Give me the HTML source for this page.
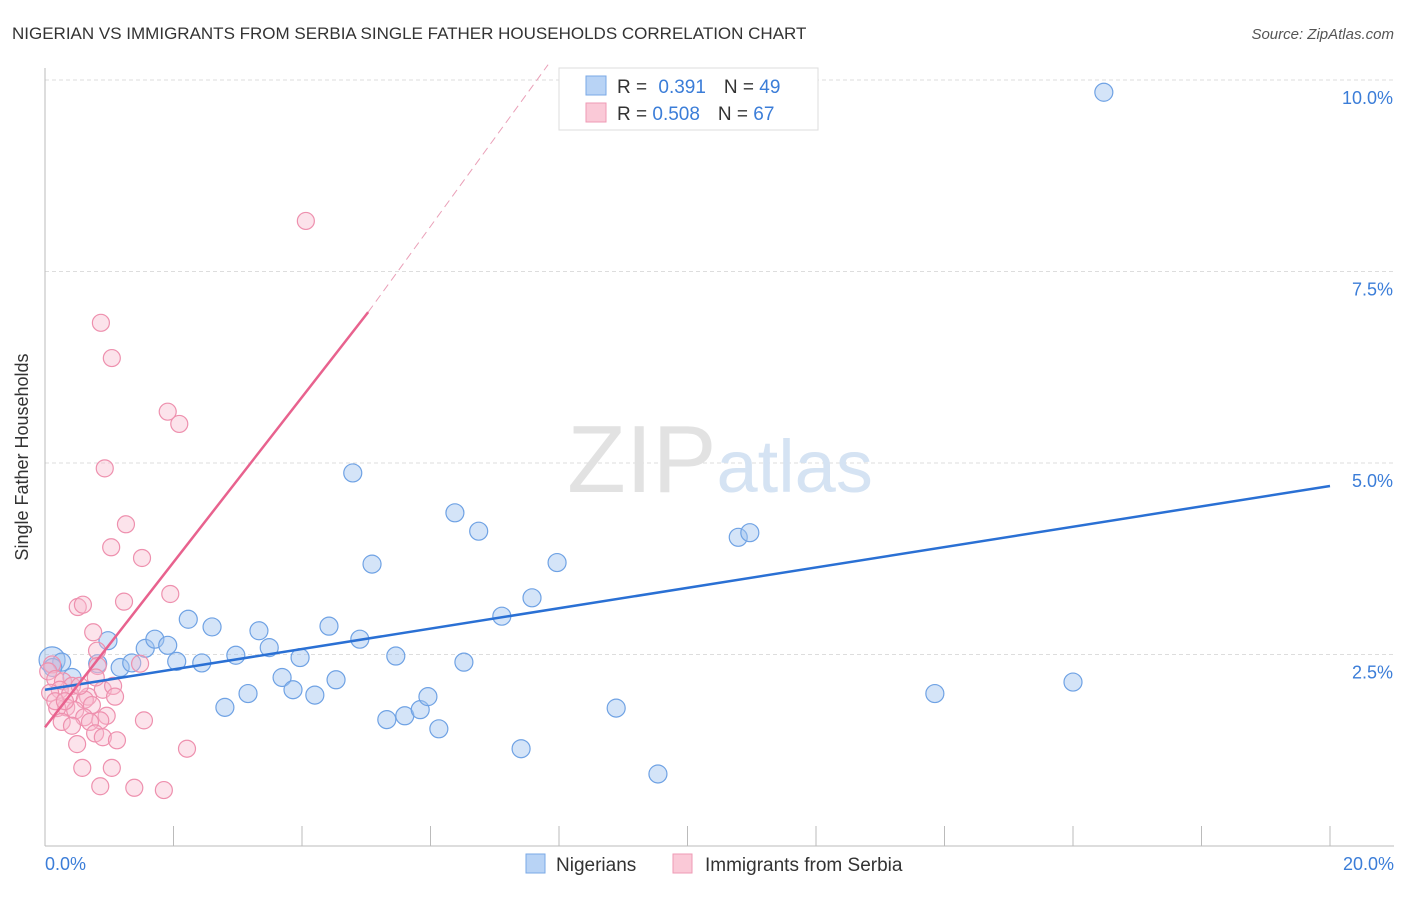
<!DOCTYPE html>
<html><head><meta charset="utf-8">
<style>
body{margin:0;background:#fff;font-family:"Liberation Sans",sans-serif;}
svg text{font-family:"Liberation Sans",sans-serif;}
</style></head>
<body>
<svg width="1406" height="892" viewBox="0 0 1406 892">
<text x="12" y="39" font-size="17" fill="#333">NIGERIAN VS IMMIGRANTS FROM SERBIA SINGLE FATHER HOUSEHOLDS CORRELATION CHART</text>
<text x="1394" y="39" font-size="15" fill="#555" font-style="italic" text-anchor="end">Source: ZipAtlas.com</text>
<g id="grid"></g>
<line x1="45" y1="68" x2="45" y2="846" stroke="#bbb"/>
<line x1="45" y1="846" x2="1394" y2="846" stroke="#bbb"/>
<g id="xticks"></g>
<text x="28" y="457" font-size="18" fill="#333" text-anchor="middle" transform="rotate(-90 28 457)">Single Father Households</text>
<text x="45" y="870" font-size="18" fill="#3b7dd8">0.0%</text>
<text x="1394" y="870" font-size="18" fill="#3b7dd8" text-anchor="end">20.0%</text>
<text x="720" y="492" font-size="96" fill="#ddd" text-anchor="middle" font-family="Liberation Serif"><tspan fill="#e2e2e2">ZIP</tspan><tspan fill="#d5e3f3" font-family="Liberation Sans" font-size="74">atlas</tspan></text>
<g id="pts"></g>
<g id="lines"></g>
<g>
<rect x="559" y="68" width="259" height="62" fill="#fff" stroke="#ddd"/>
<rect x="586" y="76" width="20" height="19" fill="#b8d3f5" stroke="#7aa8e6"/>
<rect x="586" y="103" width="20" height="19" fill="#fac9d7" stroke="#ef9ab4"/>
<text x="617" y="93" font-size="19" fill="#333">R = <tspan fill="#3b7dd8" dx="6">0.391</tspan><tspan dx="18" fill="#333">N = </tspan><tspan fill="#3b7dd8">49</tspan></text>
<text x="617" y="120" font-size="19" fill="#333">R = <tspan fill="#3b7dd8">0.508</tspan><tspan dx="18" fill="#333">N = </tspan><tspan fill="#3b7dd8">67</tspan></text>
</g>
<g>
<rect x="526" y="854" width="19" height="19" fill="#b8d3f5" stroke="#7aa8e6"/>
<text x="556" y="871" font-size="19" fill="#333">Nigerians</text>
<rect x="673" y="854" width="19" height="19" fill="#fac9d7" stroke="#ef9ab4"/>
<text x="705" y="871" font-size="19" fill="#333">Immigrants from Serbia</text>
</g>
</svg>
<script>
const yTicks=[2.5,5,7.5,10];
const yTickLabels=["2.5%","5.0%","7.5%","10.0%"];
const xTicks=[0,2,4,6,8,10,12,14,16,18,20];
const blueX=[0.11,0.26,0.98,0.82,1.17,1.35,1.56,1.71,1.91,2.05,2.23,2.44,2.6,2.8,2.97,3.16,3.33,3.49,3.69,3.86,3.97,4.2,4.42,4.53,4.79,4.9,5.09,5.32,5.46,5.6,5.84,5.96,6.13,6.38,6.52,6.75,7.11,7.41,7.58,7.97,8.89,9.54,10.79,10.97,13.85,16.0,16.48,0.42,0.12];
const blueY=[2.43,2.4,2.68,2.38,2.33,2.39,2.58,2.7,2.62,2.41,2.96,2.39,2.86,1.81,2.49,1.99,2.81,2.59,2.2,2.04,2.46,1.97,2.87,2.17,4.87,2.7,3.68,1.65,2.48,1.7,1.78,1.95,1.53,4.35,2.4,4.11,3.0,1.27,3.24,3.7,1.8,0.94,4.03,4.09,1.99,2.14,9.84,2.2,2.33];
const pinkX=[4.06,0.87,1.04,1.91,2.09,0.93,1.26,1.03,1.51,1.95,1.23,0.51,0.59,0.75,0.81,0.82,1.48,0.11,0.05,0.16,0.28,0.42,0.23,0.08,0.39,0.67,0.9,1.06,1.09,0.62,0.73,0.33,0.19,0.47,0.61,0.96,0.86,0.7,0.26,0.42,0.78,0.9,1.12,1.54,0.5,2.21,0.58,1.04,0.86,1.39,1.85,0.16,0.31,0.54,0.79];
const pinkY=[8.16,6.83,6.37,5.67,5.51,4.93,4.2,3.9,3.76,3.29,3.19,3.12,3.15,2.79,2.55,2.35,2.38,2.37,2.28,2.18,2.15,2.09,2.04,2.0,1.98,1.95,2.04,2.09,1.95,1.91,1.84,1.81,1.8,1.77,1.68,1.7,1.64,1.62,1.62,1.57,1.47,1.42,1.38,1.64,1.33,1.27,1.02,1.02,0.78,0.76,0.73,1.89,1.89,2.09,2.2];
const blueLine=[[0,2.04],[20,4.7]];
const pinkLine=[[0,1.55],[5.03,6.97]];
const pinkDash=[[5.03,6.97],[7.83,10.2]];
const X=v=>45+v*64.25, Y=v=>846-v*76.6;
const NS="http://www.w3.org/2000/svg";
function mk(t,a,p){const e=document.createElementNS(NS,t);for(const k in a)e.setAttribute(k,a[k]);p.appendChild(e);return e;}
const grid=document.getElementById('grid');
yTicks.forEach((v,i)=>{
 const l=mk('line',{x1:45,x2:1394,y1:Y(v),y2:Y(v),stroke:'#ddd','stroke-dasharray':'4 3'},grid);
 
 
 const t=mk('text',{x:1393,y:Y(v)+24,'font-size':18,fill:'#3b7dd8','text-anchor':'end'},grid);
 t.textContent=yTickLabels[i];
 
 
});
const xt=document.getElementById('xticks');
xTicks.forEach(v=>{
 const l=mk('line',{x1:X(v),x2:X(v),y1:826,y2:846,stroke:'#bbb'},xt);
 
 
});
const pts=document.getElementById('pts');
blueX.forEach((v,i)=>{
 const c=mk('circle',{cx:X(v),cy:Y(blueY[i]),r:i==0?13:9,fill:'rgba(160,196,240,0.45)',stroke:'#6fa2e4','stroke-width':1.2},pts);
 
 
});
pinkX.forEach((v,i)=>{
 const c=mk('circle',{cx:X(v),cy:Y(pinkY[i]),r:8.5,fill:'rgba(248,185,205,0.4)',stroke:'#ee90ae','stroke-width':1.2},pts);
 
 
});
const ln=document.getElementById('lines');
let a=mk('line',{x1:X(blueLine[0][0]),y1:Y(blueLine[0][1]),x2:X(blueLine[1][0]),y2:Y(blueLine[1][1]),stroke:'#2a70d4','stroke-width':2.5},ln);


let b=mk('line',{x1:X(pinkLine[0][0]),y1:Y(pinkLine[0][1]),x2:X(pinkLine[1][0]),y2:Y(pinkLine[1][1]),stroke:'#e8628e','stroke-width':2.5},ln);


let d=mk('line',{x1:X(pinkDash[0][0]),y1:Y(pinkDash[0][1]),x2:X(pinkDash[1][0]),y2:Y(pinkDash[1][1]),stroke:'#eaa0b8','stroke-width':1,'stroke-dasharray':'8 5'},ln);


</script>
</body></html>
